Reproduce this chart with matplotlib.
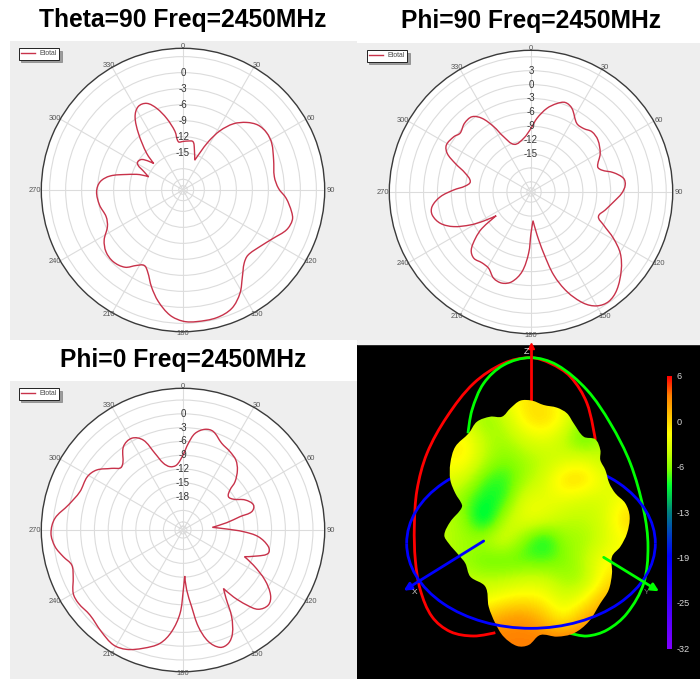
import numpy as np
import matplotlib
matplotlib.use('Agg')
import matplotlib.pyplot as plt
from matplotlib.colors import LinearSegmentedColormap
from matplotlib.lines import Line2D
from matplotlib.patches import Rectangle, Arc, PathPatch
from matplotlib.path import Path

plt.rcParams['font.family'] = ['Liberation Sans', 'DejaVu Sans']

W, H = 700, 679

# Theta=90 cut
theta90_ang = [0, 6.6, 11.7, 15.2, 21.5, 24.5, 27.7, 32, 37.3, 43.3, 49.2, 55.6, 62.2, 71.6, 81.7, 89, 94.6,
               101.3, 105.3, 111, 118.1, 126.3, 135.1, 140.2, 145.6, 151.1, 157.6, 165.2, 174.1, 179.9,
               185.9, 192.5, 198, 203.4, 207.2, 211.6, 216.9, 224.2, 231.3, 237.6, 244.1, 250.9, 259.8,
               268.9, 275.7, 280.9, 285.5, 289.6, 291, 295.2, 300.3, 306.6, 312.2, 315.3, 321.8, 326.8,
               331.8, 337.3, 342.1, 347.2, 352.2, 354.5]
theta90_db = [-12.9, -12.75, -12.75, -13.9, -16.0, -14.3, -11.75, -8.9, -6.4, -4.6, -3.4, -3.0, -3.2, -4.1,
              -4.7, -4.1, -2.6, -1.25, -0.75, -1.2, -2.8, -4.1, -4.75, -4.1, -2.3, 0.1, 2.0, 2.75, 2.8, 2.6,
              1.6, -0.6, -2.9, -5.3, -6.1, -5.4, -3.9, -3.25, -3.5, -4.5, -6.25, -6.75, -6.1, -5.8, -6.4,
              -8.1, -11.1, -13.4, -15.1, -13.9, -12.1, -12.4, -14.6, -12.3, -8.5, -5.6, -4.25, -4.4, -5.9,
              -8.25, -10.9, -12.9]

# Phi=90 cut
phi90_ang = [0, 4.7, 10.8, 16.3, 21, 26.1, 33.8, 39.6, 45.3, 52.1, 60.9, 69.2, 72.8, 76.8, 81.6, 85.8, 90.8,
             96.7, 103.6, 110, 114.4, 119.3, 124.5, 130.8, 138.7, 144.7, 150, 154.7, 160.1, 164.7, 168.3,
             172, 176, 180, 182.2, 186.4, 192, 197.6, 203.4, 209, 214.7, 220.8, 225.8, 230.2, 233.4, 235.7,
             238.5, 241.5, 245.9, 250.9, 256.9, 261.6, 267, 271.5, 275.2, 279.7, 285.9, 290.7, 294.7, 299,
             305.6, 309.7, 315.9, 321.9, 326.4, 330.3, 333.7, 340.7, 352.2]
phi90_db = [-9.45, -7.2, -4.8, -3.3, -2.5, -3.1, -5.4, -5.4, -4.7, -4.9, -6.1, -7.8, -7.2, -4.9, -3.0, -2.8,
            -3.6, -5.2, -6.7, -7.7, -6.0, -2.8, 0.2, 2.55, 4.9, 5.8, 5.2, 3.35, -0.3, -4.6, -9.7, -13.85, -17,
            -14.3, -10, -5.9, -3.4, -2.55, -2.9, -4.35, -4.6, -4.3, -5.2, -7.6, -10, -14.1, -11.2, -8.3, -4.9,
            -2.5, -1.3, -1.6, -3.6, -6.5, -8.95, -9.9, -8.45, -5.7, -3.3, -2.3, -2.7, -3.3, -2.55, -2.55, -4.1,
            -6.95, -9.9, -12.3, -11.5]

# Phi=0 cut
phi0_ang = [0, 3.5, 7.1, 12.3, 17.1, 24, 31, 37.1, 42.2, 47.1, 49.6, 53.7, 58.6, 64.2, 70.4, 75.1, 76.8, 80.5,
            84.8, 88.7, 91.6, 95.1, 101, 105.3, 109, 113.5, 116.5, 121.4, 126.6, 131.3, 136.5, 139.7, 143,
            145.3, 147.8, 150.7, 154.5, 158.2, 162.5, 167.2, 171, 173.6, 176.5, 177.9, 179.7, 182, 186.4,
            191.5, 198.5, 205.3, 211.2, 218.7, 227.6, 235, 240, 246.9, 252.5, 257.4, 262.6, 268.6, 275.2,
            282.3, 290.4, 299.1, 304.8, 310.8, 315.9, 324.4, 330.8, 336.2, 339.9, 343.6, 348.4, 354.4]
phi0_db = [-8.95, -6.4, -4.1, -2.85, -2.85, -4.6, -5.4, -6.2, -7.65, -9.8, -11.85, -13, -12.4, -10.25, -9, -9.8,
           -12.5, -15.6, -18.85, -15.75, -12.1, -8.8, -6.35, -6.05, -7.95, -10.7, -8.15, -4.4, -1.55, -0.55,
           -1.5, -3.9, -7.05, -9.8, -7.7, -3.65, -0.3, 1.3, 1.5, -0.4, -4, -8.5, -12.2, -15.25, -12.2, -7.15,
           -3, -0.1, 1.85, 3.45, 3.95, 3.1, 2.15, 2.5, 2.3, 0.7, 0.1, 1.4, 2.8, 3.45, 2.7, 0.25, -1.35, -1.45,
           -2.4, -4.75, -6.1, -3, -2.4, -3.9, -7.5, -10.1, -11.2, -11.05]

angle_ticks = [0, 30, 60, 90, 120, 150, 180, 210, 240, 270, 300, 330]

theta90_labels = [0, -3, -6, -9, -12, -15]
theta90_rings = [3, 0, -3, -6, -9, -12, -15, -18, -20, -21.2]
phi90_labels = [3, 0, -3, -6, -9, -12, -15]
phi90_rings = [6, 3, 0, -3, -6, -9, -12, -15, -18, -21, -22.3]
phi0_labels = [0, -3, -6, -9, -12, -15, -18]
phi0_rings = [3, 0, -3, -6, -9, -12, -15, -18, -21, -23.5, -24.4]

# 3D pattern colour scale
scale_db = [6, 0, -6, -13, -19, -25, -32]

# surface outline, in pixels of the 3D view
blob_x = [490, 525, 560, 600, 630, 650, 680, 715, 730, 730, 745, 757, 775, 805, 818, 810, 790, 765, 765, 755,
          730, 695, 650, 600, 550, 515, 480, 440, 415, 395, 385, 340, 325, 305, 275, 262, 280, 310, 315, 295,
          280, 280, 295, 335, 360, 400, 435, 460]
blob_y = [182, 182, 195, 203, 220, 250, 290, 298, 330, 360, 390, 430, 460, 490, 530, 580, 620, 650, 700, 750,
          790, 845, 880, 890, 885, 915, 918, 890, 850, 800, 740, 710, 670, 645, 610, 585, 545, 510, 495, 460,
          420, 370, 320, 280, 245, 230, 230, 205]

# surface level in dB, on a coarse grid of the 3D view
grid_x = [260, 320, 380, 440, 500, 560, 620, 680, 740, 800, 860]
grid_y = [180, 240, 300, 360, 420, 480, 540, 600, 660, 720, 780, 840, 900]
blob_db = [[-4, -4, -4, -3, -1, -1, -3, -4, -5, -5, -5],
           [-5, -4, -7, -5, -1, 0, -2, -7, -6, -6, -6],
           [-2, -1, -5, -6, -4, -3, -5, -9, -5, -5, -5],
           [-2, -1, -5, -7, -6, -5, -4, -3, -5, -5, -5],
           [-3, -4, -8, -9, -6, -4, 0, 0, -3, -4, -4],
           [-5, -7, -9.5, -9, -3, -3, -3, -4, -4, -2, -2],
           [-5, -6, -12, -5, -2.5, -3, -5, -5, -4, 0, 0],
           [-5, -6, -5, -3, -7, -10.5, -6, -6, -4, -2, -2],
           [-5, -6, -8, -8, -8, -8, -7, -5, -2, -2, -2],
           [-5, -5, -5, -5, -4, -4, -6, -6, -1, 0, 0],
           [-3, -3, -3, -1.5, -1, -1.5, -4, -2, 1.5, 1.5, 1.5],
           [1, 1, 1, 2.5, 3, 1, -2, 2, 2.5, 3, 3],
           [3.3, 3.3, 3.3, 3.3, 3.3, 3.5, 4, 4, 4, 4, 4]]

red_x = [715, 690, 640, 580, 520, 440, 350, 270, 210, 180, 172, 175, 190, 225, 280, 350, 415]
red_y = [300, 190, 110, 70, 53, 70, 130, 230, 340, 450, 560, 660, 750, 830, 875, 888, 878]
green_x = [333, 345, 380, 440, 520, 600, 690, 760, 820, 860, 873, 860, 810, 750, 690, 640]
green_y = [280, 210, 130, 75, 53, 75, 150, 250, 370, 510, 620, 730, 820, 870, 888, 880]


def bezier_path(x, y, closed=False):
    "Cubic bezier path through the read points, with a corner at each sharp turn"

    pts = np.column_stack([x, y]).astype(float)
    prev_seg = pts - np.roll(pts, 1, axis=0)
    next_seg = np.roll(pts, -1, axis=0) - pts
    tan = prev_seg + next_seg
    tan = tan / np.maximum(np.linalg.norm(tan, axis=1, keepdims=True), 1e-9)

    # sharp cusps keep no tangent
    sharp = np.sum(prev_seg * next_seg, axis=1) < 0
    tan[sharp] = 0
    if not closed:
        tan[0] = tan[-1] = 0

    n = len(pts)
    verts = [pts[0]]
    codes = [Path.MOVETO]
    for i in range(n if closed else n - 1):
        j = (i + 1) % n
        step = np.linalg.norm(pts[j] - pts[i]) / 3
        verts += [pts[i] + tan[i] * step, pts[j] - tan[j] * step, pts[j]]
        codes += [Path.CURVE4, Path.CURVE4, Path.CURVE4]
    return Path(verts, codes)


def add_polar(fig, cx, cy, radius, rmin, rmax, ang, db, rings, labels):
    "One Etotal cut, placed by its centre in pixels"

    ax = fig.add_axes([(cx - radius) / W, 1 - (cy + radius) / H, 2 * radius / W, 2 * radius / H],
                      projection='polar')
    ax.set_theta_zero_location('N')
    ax.set_theta_direction(-1)
    ax.set_xticks(np.radians(angle_ticks))
    ax.set_xticklabels([])
    ax.set_yticks(rings)
    ax.set_yticklabels([])
    ax.set_rlim(rmin, rmax)
    ax.tick_params(length=0)
    ax.grid(color='#dcdcdc', linewidth=0.8)
    ax.spines['polar'].set_color('#3a3a3a')
    ax.spines['polar'].set_linewidth(1.0)

    # curve is built flat so that it can be smooth, then handed back in polar values
    t = np.radians(ang)
    r = np.array(db) - rmin
    path = bezier_path(r * np.sin(t), r * np.cos(t), closed=True)
    polar_verts = np.column_stack([np.arctan2(path.vertices[:, 0], path.vertices[:, 1]),
                                   np.hypot(path.vertices[:, 0], path.vertices[:, 1]) + rmin])
    ax.add_patch(PathPatch(Path(polar_verts, path.codes), facecolor='none', edgecolor='#c8324a', linewidth=1.0,
                           zorder=3))
    ax.set_rlim(rmin, rmax)

    for a in angle_ticks:
        ta = np.radians(a)
        ax.annotate(str(a), xy=(ta, rmax), xytext=(np.sin(ta) * 6 * 0.72, np.cos(ta) * 1.5 * 0.72),
                    textcoords='offset points', ha='center', va='center', fontsize=5.4, color='#555555',
                    annotation_clip=False)
    for v in labels:
        ax.text(0, v, str(v), ha='center', va='center', fontsize=7.0, color='#333333', zorder=4)

    # legend box in the corner of the panel
    handle = Line2D([0], [0], color='#c8324a', linewidth=1.0, label='Etotal')
    leg = ax.legend(handles=[handle], loc='center', bbox_to_anchor=((cx - 144) / W, 1 - (cy - 136.3) / H),
                    bbox_transform=fig.transFigure, fontsize=4.9, frameon=True, fancybox=False,
                    shadow={'color': '#888888', 'alpha': 0.8}, edgecolor='#222222', framealpha=1, borderpad=0.35,
                    borderaxespad=0, handlelength=2.0, handletextpad=0.75)
    leg.get_frame().set_linewidth(0.7)
    for txt in leg.get_texts():
        txt.set_color('#444444')
    return ax


def add_surface(fig):
    "Black 3D view with the surface, the rings and the scale"

    ax = fig.add_axes([357 / W, 0, 343 / W, 339 / H])
    ax.set_facecolor('black')
    ax.set_xticks([])
    ax.set_yticks([])
    for s in ax.spines.values():
        s.set_visible(False)
    ax.add_patch(Rectangle((0, 0), 1029, 12, color='#f4f4f4', zorder=1))

    cmap = LinearSegmentedColormap.from_list('scale', [(0.0, '#8000ff'), (0.34, '#0000ff'), (0.50, '#008080'),
                                                       (0.60, '#00ff30'), (0.66, '#80ff00'), (0.72, '#c8ff00'),
                                                       (0.79, '#ffff00'), (0.86, '#ffc000'), (0.93, '#ff8000'),
                                                       (1.0, '#ff0000')])
    vmin, vmax = scale_db[-1], scale_db[0]

    # rings and axes behind the surface
    ax.add_patch(PathPatch(bezier_path(red_x, red_y), facecolor='none', edgecolor='#ff0000', linewidth=2.0,
                           zorder=2))
    ax.add_patch(PathPatch(bezier_path(green_x, green_y), facecolor='none', edgecolor='#00ff00', linewidth=2.0,
                           zorder=2.1))
    ax.add_patch(Arc((522, 610), 746, 510, theta1=180, theta2=360, color='#0000ff', linewidth=2.0, zorder=2.2))
    ax.plot([522, 522], [200, 22], color='#ff0000', linewidth=2.0, zorder=2.3)
    ax.plot([522], [18], marker='^', color='#ff0000', markersize=4, zorder=2.3)

    # surface
    outline = PathPatch(bezier_path(blob_x, blob_y, closed=True), transform=ax.transData, facecolor='none',
                        edgecolor='none')
    ax.add_patch(outline)
    dx, dy = (grid_x[1] - grid_x[0]) / 2, (grid_y[1] - grid_y[0]) / 2
    im = ax.imshow(np.array(blob_db), cmap=cmap, vmin=vmin, vmax=vmax, interpolation='bicubic', aspect='auto',
                   extent=[grid_x[0] - dx, grid_x[-1] + dx, grid_y[-1] + dy, grid_y[0] - dy], zorder=3)
    im.set_clip_path(outline)

    # front half of the blue ring and the axes
    ax.add_patch(Arc((522, 610), 746, 510, theta1=0, theta2=180, color='#0000ff', linewidth=2.0, zorder=4))
    ax.annotate('', xy=(140, 752), xytext=(380, 603), zorder=5,
                arrowprops=dict(arrowstyle='-|>', color='#0000ff', lw=2.0, mutation_scale=11, shrinkA=0, shrinkB=0))
    ax.annotate('', xy=(906, 754), xytext=(740, 652), zorder=5,
                arrowprops=dict(arrowstyle='-|>', color='#00ff00', lw=2.0, mutation_scale=11, shrinkA=0, shrinkB=0))
    ax.text(508, 33, 'Z', color='#dddddd', fontsize=6.5, ha='center', va='center', zorder=6)
    ax.text(172, 758, 'X', color='#cccccc', fontsize=6, ha='center', va='center', zorder=6)
    ax.text(870, 758, 'Y', color='#777777', fontsize=6, ha='center', va='center', zorder=6)

    # colour scale
    ramp = np.linspace(vmax, vmin, 256).reshape(-1, 1)
    ax.imshow(ramp, cmap=cmap, vmin=vmin, vmax=vmax, aspect='auto', extent=[930, 945, 928, 110], zorder=3)
    ax.set_xlim(0, 1029)
    ax.set_ylim(1017, 0)
    tick_y = np.linspace(110, 928, len(scale_db))
    for v, y in zip(scale_db, tick_y):
        ax.text(959, y, str(v), color='#d8d8d8', fontsize=6.6, ha='left', va='center')


if __name__ == "__main__":

    fig = plt.figure(figsize=(W / 100, H / 100), dpi=100, facecolor='white')

    # grey panels behind the polar plots
    for x, y, w, h in [(10, 41, 347, 299), (357, 43, 343, 297), (10, 381, 347, 298)]:
        fig.patches.append(Rectangle((x / W, 1 - (y + h) / H), w / W, h / H, transform=fig.transFigure,
                                     facecolor='#eeeeee', edgecolor='none', figure=fig, zorder=-1))

    for text, x, y in [('Theta=90 Freq=2450MHz', 183, 20), ('Phi=90 Freq=2450MHz', 531, 21),
                       ('Phi=0 Freq=2450MHz', 183, 360)]:
        fig.text(x / W, 1 - y / H, text, fontsize=17.7, fontweight='bold', ha='center', va='center', color='black')

    add_polar(fig, 183, 190, 141.7, -22, 4.56, theta90_ang, theta90_db, theta90_rings, theta90_labels)
    add_polar(fig, 531, 192, 141.7, -23.2, 7.4, phi90_ang, phi90_db, phi90_rings, phi90_labels)
    add_polar(fig, 183, 530, 141.7, -25.25, 5.55, phi0_ang, phi0_db, phi0_rings, phi0_labels)
    add_surface(fig)

    fig.savefig('out.png', dpi=100)
